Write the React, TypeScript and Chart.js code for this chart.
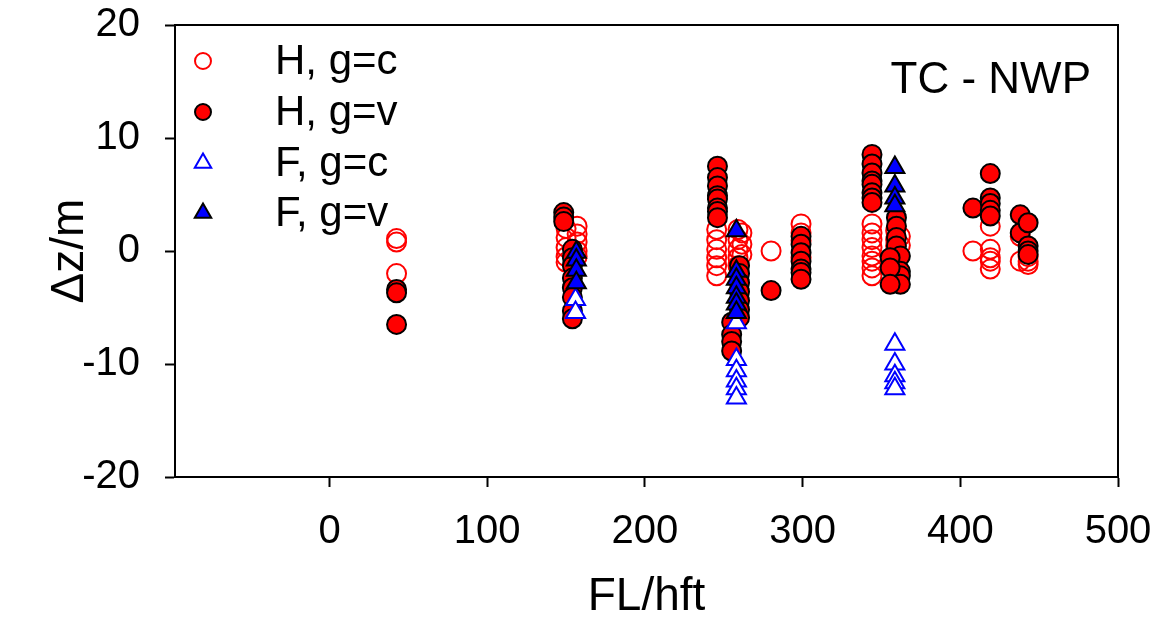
import React, { useEffect, useRef } from 'react';
import { Chart, registerables } from 'chart.js';

Chart.register(...registerables);

// ---- data (FL in hft, Δz in m) ----
const X_TICKS = [0, 100, 200, 300, 400, 500];
const Y_TICKS = [-20, -10, 0, 10, 20];
const LEGEND_LABELS = ['H, g=c', 'H, g=v', 'F, g=c', 'F, g=v'];
const PANEL_LABEL = 'TC - NWP';
const X_TITLE = 'FL/hft';
const Y_TITLE = 'Δz/m';

const H_GC: [number, number][] = [
  [42.5, 1.1], [42.5, 0.8], [42.5, -2.0],
  [150, 2.0], [150, 1.2], [150, 0.3], [150, -0.5], [150, -1.0],
  [157, 2.2], [157, 1.5], [157, 0.8], [157, 0.0], [157, -0.5],
  [245.5, 1.9], [245.5, 1.0], [245.5, 0.15], [245.5, -0.6], [245.5, -1.3], [245.5, -2.2],
  [259, 1.9], [259, 1.0], [259, 0.15], [259, -0.6], [259, -1.3],
  [261.5, 1.6], [261.5, 0.6], [261.5, -0.3],
  [280, 0.0],
  [299, 2.4], [299, 1.6], [299, 0.9], [299, -0.6],
  [344, 2.4], [344, 1.6], [344, 1.0], [344, 0.3], [344, -0.45], [344, -0.9], [344, -1.5], [344, -2.2],
  [359, 1.8], [359, 1.0], [359, 0.45], [362, 1.3], [362, 0.5],
  [408, 0.0],
  [419, 2.2], [419, 0.15], [419, -0.6], [419, -0.9], [419, -1.6],
  [438, 1.3], [438, -0.9],
  [443, -0.5], [443, -0.9], [443, -1.2],
];

const H_GV: [number, number][] = [
  [42.5, -3.4], [42.5, -3.7], [42.5, -6.5],
  [148.5, 3.4], [148.5, 3.0], [148.5, 2.6],
  [154, 0.15], [154, -0.6], [154, -1.3], [154, -2.4], [154, -3.25], [154, -4.1], [154, -5.3], [154, -6.0],
  [246, 7.5], [246, 6.5], [246, 5.75], [246, 4.9], [246, 4.6], [246, 3.8], [246, 3.5], [246, 2.95],
  [260, -1.3], [260, -2.0], [260, -2.8], [260, -3.6], [260, -4.4], [260, -5.2], [260, -5.9],
  [255, -6.3], [255, -7.4], [255, -8.0], [255, -8.85],
  [280, -3.5],
  [299, 1.3], [299, 0.6], [299, -0.15], [299, -0.9], [299, -1.6], [299, -1.9], [299, -2.5],
  [344, 8.55], [344, 7.7], [344, 6.9], [344, 6.2], [344, 5.9], [344, 5.15], [344, 4.7], [344, 4.3],
  [359.5, 2.95], [359.5, 2.2], [359.5, 1.2], [359.5, 0.45],
  [362, -0.45], [362, -1.8], [362, -2.2], [362, -2.95],
  [355.5, -0.6], [355.5, -1.5], [355.5, -2.95],
  [408, 3.8],
  [419, 6.85], [419, 4.7], [419, 4.2], [419, 3.6], [419, 3.1],
  [438, 3.2], [438, 1.6],
  [443, 2.5], [443, 0.45], [443, 0.0], [443, -0.3],
];

const F_GC: [number, number][] = [
  [156, -4.3], [156, -5.45],
  [258, -6.35], [258, -9.6], [258, -10.6], [258, -11.5], [258, -12.2], [258, -13.0],
  [358.5, -8.25], [358.5, -10.0], [358.5, -11.05], [358.5, -11.65], [358.5, -12.2],
];

const F_GV: [number, number][] = [
  [156.5, -0.1], [156.5, -0.8], [156.5, -1.7], [156.5, -2.8],
  [258, 1.8], [258, -1.8], [258, -2.5], [258, -3.25], [258, -4.1], [258, -4.7], [258, -5.45],
  [358.5, 7.4], [358.5, 5.75], [358.5, 4.7], [358.5, 4.0],
];

const FONT = '"Liberation Sans", Arial, Helvetica, sans-serif';
const RED = '#ff0000';
const BLUE = '#0000ff';

type MarkerStyle = { shape: 'circle' | 'triangle'; fill: string; stroke: string };
const MARKERS: MarkerStyle[] = [
  { shape: 'circle', fill: 'rgba(0,0,0,0)', stroke: RED },
  { shape: 'circle', fill: RED, stroke: '#000000' },
  { shape: 'triangle', fill: '#ffffff', stroke: BLUE },
  { shape: 'triangle', fill: BLUE, stroke: '#000000' },
];

const toPts = (arr: [number, number][]) => arr.map(([x, y]) => ({ x, y }));

const framePlugin = {
  id: 'framePlugin',
  afterDraw(chart: any) {
    const { ctx, chartArea } = chart;
    const { left, right, top, bottom } = chartArea;
    ctx.save();
    ctx.strokeStyle = '#000';
    ctx.lineWidth = 2;
    ctx.beginPath();
    ctx.moveTo(left, top);
    ctx.lineTo(right, top);
    ctx.lineTo(right, bottom);
    ctx.stroke();

    // legend
    const mx = left + 28;
    const tx = left + 100;
    const rows = [61, 112, 163, 213];
    ctx.font = `42px ${FONT}`;
    ctx.textBaseline = 'middle';
    ctx.textAlign = 'left';
    LEGEND_LABELS.forEach((label, i) => {
      const m = MARKERS[i];
      const y = rows[i];
      ctx.lineWidth = 2;
      ctx.strokeStyle = m.stroke;
      ctx.fillStyle = m.fill;
      ctx.beginPath();
      if (m.shape === 'circle') {
        ctx.arc(mx, y, 8, 0, Math.PI * 2);
      } else {
        const r = 9.5;
        ctx.moveTo(mx, y - r);
        ctx.lineTo(mx + r * 0.866, y + r * 0.5);
        ctx.lineTo(mx - r * 0.866, y + r * 0.5);
        ctx.closePath();
      }
      ctx.fill();
      ctx.stroke();
      ctx.fillStyle = '#000';
      ctx.fillText(label, tx, y + 1);
    });

    ctx.font = `44px ${FONT}`;
    ctx.textAlign = 'right';
    ctx.fillText(PANEL_LABEL, right - 27, 81);
    ctx.restore();
  },
};

export default function App() {
  const ref = useRef<HTMLCanvasElement | null>(null);

  useEffect(() => {
    if (!ref.current) return;
    const datasets = [H_GC, H_GV, F_GC, F_GV].map((arr, i) => {
      const m = MARKERS[i];
      return {
        label: LEGEND_LABELS[i],
        data: toPts(arr),
        showLine: false,
        pointStyle: m.shape,
        pointRadius: m.shape === 'circle' ? 9.5 : 11,
        pointBorderWidth: 2,
        pointBackgroundColor: m.fill,
        pointBorderColor: m.stroke,
        backgroundColor: m.fill,
        borderColor: m.stroke,
        order: 4 - i,
      };
    });

    const chart = new Chart(ref.current, {
      type: 'scatter',
      data: { datasets },
      plugins: [framePlugin],
      options: {
        animation: false,
        responsive: false,
        events: [],
        layout: { padding: { top: 25, right: 56, left: 0, bottom: 0 } },
        plugins: { legend: { display: false }, tooltip: { enabled: false } },
        scales: {
          x: {
            type: 'linear',
            min: -98,
            max: 500,
            afterBuildTicks: (s: any) => {
              s.ticks = X_TICKS.map((v) => ({ value: v }));
            },
            afterFit: (s: any) => {
              s.height = 148;
              s.paddingLeft = 0;
              s.paddingRight = 0;
            },
            grid: {
              drawOnChartArea: false,
              drawTicks: true,
              tickLength: 10,
              tickWidth: 2,
              tickColor: '#000',
              color: '#000',
            },
            border: { display: true, color: '#000', width: 2 },
            ticks: {
              color: '#000',
              padding: 21,
              maxRotation: 0,
              font: { family: FONT, size: 40 },
            },
            title: {
              display: true,
              text: X_TITLE,
              color: '#000',
              font: { family: FONT, size: 46 },
              padding: { top: 0, bottom: 0 },
            },
          },
          y: {
            type: 'linear',
            min: -20,
            max: 20,
            afterBuildTicks: (s: any) => {
              s.ticks = Y_TICKS.map((v) => ({ value: v }));
            },
            afterFit: (s: any) => {
              s.width = 175;
              s.paddingTop = 0;
              s.paddingBottom = 0;
            },
            grid: {
              drawOnChartArea: false,
              drawTicks: true,
              tickLength: 10,
              tickWidth: 2,
              tickColor: '#000',
              color: '#000',
            },
            border: { display: true, color: '#000', width: 2 },
            ticks: {
              color: '#000',
              padding: 25,
              font: { family: FONT, size: 40 },
            },
            title: {
              display: true,
              text: Y_TITLE,
              color: '#000',
              font: { family: FONT, size: 46 },
              padding: { top: 43, bottom: 0 },
            },
          },
        },
      },
    } as any);

    return () => chart.destroy();
  }, []);

  return (
    <div style={{ position: 'fixed', left: 0, top: 0, width: 1174, height: 625, background: '#fff' }}>
      <canvas ref={ref} width={1174} height={625} style={{ display: 'block' }} />
    </div>
  );
}
